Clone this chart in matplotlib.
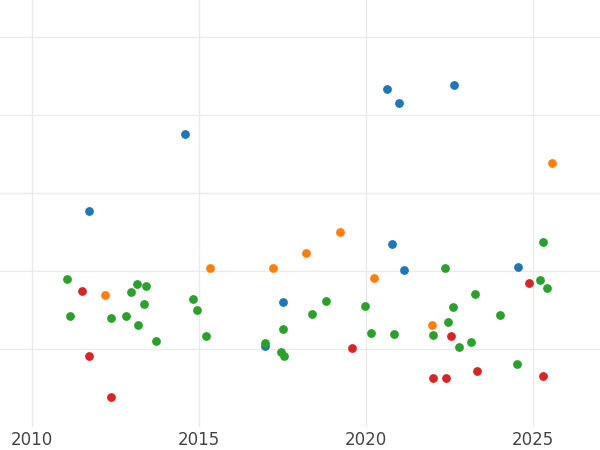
import matplotlib
matplotlib.use("Agg")
import matplotlib.pyplot as plt

blue_x = [2011.71, 2014.58, 2020.63, 2020.99, 2022.63, 2016.98, 2017.51, 2020.78, 2021.14, 2024.55]
blue_y = [2.77, 3.76, 4.33, 4.15, 4.38, 1.04, 1.60, 2.35, 2.01, 2.05]
orange_x = [2012.19, 2015.33, 2017.22, 2018.20, 2019.22, 2020.24, 2021.98, 2025.57]
orange_y = [1.69, 2.04, 2.04, 2.23, 2.50, 1.91, 1.31, 3.38]
red_x = [2011.50, 2011.71, 2012.37, 2019.58, 2022.01, 2022.40, 2022.54, 2023.32, 2024.88, 2025.30]
red_y = [1.74, 0.91, 0.38, 1.01, 0.63, 0.63, 1.17, 0.72, 1.85, 0.65]
green_x = [2011.05, 2011.14, 2012.37, 2012.81, 2012.96, 2013.14, 2013.17, 2013.35, 2013.41, 2013.71,
           2014.82, 2014.94, 2015.21, 2016.98, 2017.46, 2017.54, 2017.51, 2018.38, 2018.80, 2019.97,
           2020.15, 2020.84, 2022.01, 2022.37, 2022.46, 2022.60, 2022.78, 2023.14, 2023.26, 2024.01,
           2024.52, 2025.21, 2025.30, 2025.42]
green_y = [1.90, 1.42, 1.40, 1.42, 1.73, 1.83, 1.31, 1.58, 1.81, 1.10,
           1.64, 1.50, 1.17, 1.08, 0.96, 0.91, 1.26, 1.45, 1.62, 1.55,
           1.21, 1.19, 1.18, 2.04, 1.35, 1.54, 1.03, 1.09, 1.71, 1.44,
           0.81, 1.88, 2.37, 1.78]
xticks = [2010, 2015, 2020, 2025]

fig = plt.figure(figsize=(6, 4.5), dpi=100)
ax = fig.add_axes([0, 23/450, 1, 427/450])
for xs, ys, c in [(blue_x, blue_y, "#1f77b4"), (orange_x, orange_y, "#ff7f0e"),
                  (red_x, red_y, "#d62728"), (green_x, green_y, "#2ca02c")]:
    ax.scatter(xs, ys, s=40, color=c, zorder=3, linewidths=0)
ax.set_xlim(2009.04, 2027.0)
ax.set_ylim(0, 427/78)
ax.set_xticks(xticks)
ax.set_xticklabels([str(t) for t in xticks])
ax.set_yticks([1, 2, 3, 4, 5])
ax.set_yticklabels([])
ax.tick_params(axis="both", length=0, labelsize=12, labelcolor="#444444", pad=3)
ax.grid(True, color="#ebebeb", linewidth=1)
ax.set_axisbelow(True)
for s in ax.spines.values():
    s.set_visible(False)
fig.savefig("out.png", dpi=100)
